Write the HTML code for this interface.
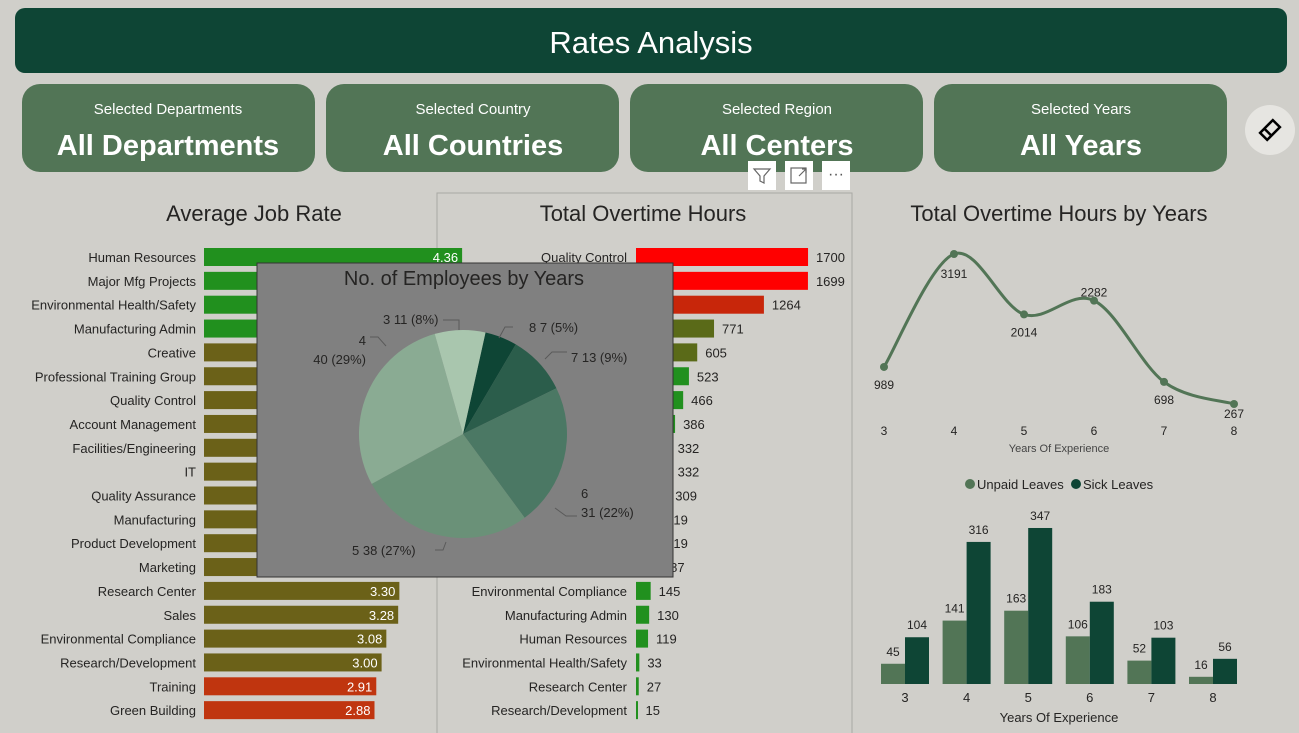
<!DOCTYPE html>
<html><head><meta charset="utf-8">
<style>
html,body{margin:0;padding:0;background:#d0cfca;width:1299px;height:733px;overflow:hidden;font-family:"Liberation Sans",sans-serif}
svg{display:block}
text{font-family:"Liberation Sans",sans-serif}
</style></head>
<body>
<svg id="dash" width="1299" height="733" xmlns="http://www.w3.org/2000/svg">
<rect x="0" y="0" width="1299" height="733" fill="#d0cfca"/>
<rect x="15" y="8" width="1272" height="65" rx="10" fill="#0e4535"/>
<text x="651" y="53" text-anchor="middle" font-size="31" fill="#fff">Rates Analysis</text>

<g><rect x="22" y="84" width="293" height="88" rx="18" fill="#527556"/>
<text x="168" y="114" text-anchor="middle" font-size="15" fill="#fff">Selected Departments</text>
<text x="168" y="155" text-anchor="middle" font-size="29" font-weight="bold" fill="#fff">All Departments</text></g>
<g><rect x="326" y="84" width="293" height="88" rx="18" fill="#527556"/>
<text x="473" y="114" text-anchor="middle" font-size="15" fill="#fff">Selected Country</text>
<text x="473" y="155" text-anchor="middle" font-size="29" font-weight="bold" fill="#fff">All Countries</text></g>
<g><rect x="630" y="84" width="293" height="88" rx="18" fill="#527556"/>
<text x="777" y="114" text-anchor="middle" font-size="15" fill="#fff">Selected Region</text>
<text x="777" y="155" text-anchor="middle" font-size="29" font-weight="bold" fill="#fff">All Centers</text></g>
<g><rect x="934" y="84" width="293" height="88" rx="18" fill="#527556"/>
<text x="1081" y="114" text-anchor="middle" font-size="15" fill="#fff">Selected Years</text>
<text x="1081" y="155" text-anchor="middle" font-size="29" font-weight="bold" fill="#fff">All Years</text></g>
<g><circle cx="1270" cy="130" r="25" fill="#e6e5e1"/>
<g transform="rotate(-45 1270 130)"><rect x="1261" y="125" width="18" height="10" fill="none" stroke="#000" stroke-width="2.5"/><line x1="1267" y1="125" x2="1267" y2="135" stroke="#000" stroke-width="2.5"/></g></g>

<rect x="437" y="193" width="415" height="545" fill="none" stroke="#a9a8a4" stroke-width="1"/>
<g><rect x="748" y="161" width="28" height="29" fill="#fff"/><path d="M754 169 h16 l-6 7 v7 l-4 -2 v-5 z" fill="none" stroke="#666" stroke-width="1.2"/></g>
<g><rect x="785" y="161" width="28" height="29" fill="#fff"/><rect x="791" y="168" width="15" height="15" fill="none" stroke="#666" stroke-width="1.2"/><path d="M799 176 l7 -7 M802 169 h4 v4" stroke="#666" fill="none" stroke-width="1.2"/></g>
<g><rect x="822" y="161" width="28" height="29" fill="#fff"/><text x="836" y="179" text-anchor="middle" font-size="16" fill="#555">···</text></g>

<text x="254" y="221" text-anchor="middle" font-size="22" fill="#252423">Average Job Rate</text>
<text x="643" y="221" text-anchor="middle" font-size="22" fill="#252423">Total Overtime Hours</text>
<text x="1059" y="221" text-anchor="middle" font-size="22" fill="#252423">Total Overtime Hours by Years</text>

<g id="jobrate"></g>
<g id="overtime"></g>
<g id="linechart"></g>
<g id="leaves"></g>
<g id="pie"></g>
</svg>
<script>
const NS="http://www.w3.org/2000/svg";
// ---- data ----
const jobDepts=["Human Resources","Major Mfg Projects","Environmental Health/Safety","Manufacturing Admin","Creative","Professional Training Group","Quality Control","Account Management","Facilities/Engineering","IT","Quality Assurance","Manufacturing","Product Development","Marketing","Research Center","Sales","Environmental Compliance","Research/Development","Training","Green Building"];
const jobRates=[4.36,4.30,4.25,4.20,3.95,3.90,3.85,3.80,3.75,3.70,3.65,3.60,3.55,3.45,3.30,3.28,3.08,3.00,2.91,2.88];
const otDepts=["Quality Control","Major Mfg Projects","Account Management","Creative","Professional Training Group","Sales","Product Development","Quality Assurance","Green Building","IT","Facilities/Engineering","Manufacturing","Training","Marketing","Environmental Compliance","Manufacturing Admin","Human Resources","Environmental Health/Safety","Research Center","Research/Development"];
const otHours=[1700,1699,1264,771,605,523,466,386,332,332,309,219,219,187,145,130,119,33,27,15];
const lineYears=["3","4","5","6","7","8"];
const lineHours=[989,3191,2014,2282,698,267];
const leaveYears=["3","4","5","6","7","8"];
const unpaid=[45,141,163,106,52,16];
const sick=[104,316,347,183,103,56];
const pieYears=["8","7","6","5","4","3"];
const pieCounts=[7,13,31,38,40,11];

function mk(tag,attrs,parent,txt){const e=document.createElementNS(NS,tag);for(const k in attrs)e.setAttribute(k,attrs[k]);if(txt!==undefined)e.textContent=txt;parent.appendChild(e);return e;}
const rowY=i=>257+i*23.85;

// job rate
const jr=document.getElementById('jobrate');
const jx=v=>204+v*59.2;
jobDepts.forEach((d,i)=>{
  const y=rowY(i);
  const c=i<4?"#21901e":(i<18?"#6b6118":"#c0350f");
  const b=mk('rect',{x:204,y:y-9,width:jx(jobRates[i])-204,height:18,fill:c},jr);
  
  
  const l=mk('text',{x:196,y:y+5,'text-anchor':'end','font-size':13,fill:'#252423'},jr,d);
  
  
  const v=mk('text',{x:jx(jobRates[i])-4,y:y+5,'text-anchor':'end','font-size':13,fill:'#fff'},jr,jobRates[i].toFixed(2));
  
  
});
// overtime
const ot=document.getElementById('overtime');
const ox=v=>636+v*0.1012;
otDepts.forEach((d,i)=>{
  const y=rowY(i);const h=otHours[i];
  const c=h>=1500?"#ff0000":h>=1000?"#c8260a":h>=600?"#5a6a18":"#21901e";
  const b=mk('rect',{x:636,y:y-9,width:Math.max(ox(h)-636,2),height:18,fill:c},ot);
  
  
  const l=mk('text',{x:627,y:y+5,'text-anchor':'end','font-size':13,fill:'#252423'},ot,d);
  
  
  const v=mk('text',{x:ox(h)+8,y:y+5,'font-size':13,fill:'#252423'},ot,String(h));
  
  
});
// line chart
const lc=document.getElementById('linechart');
const lx=i=>884+i*70, ly=v=>404-(v-267)*0.0513;
let pts=lineHours.map((v,i)=>[lx(i),ly(v)]);
let dstr="M"+pts[0];
for(let i=0;i<pts.length-1;i++){const p0=pts[Math.max(i-1,0)],p1=pts[i],p2=pts[i+1],p3=pts[Math.min(i+2,pts.length-1)];
 const c1=[p1[0]+(p2[0]-p0[0])/6,p1[1]+(p2[1]-p0[1])/6],c2=[p2[0]-(p3[0]-p1[0])/6,p2[1]-(p3[1]-p1[1])/6];
 dstr+=" C"+c1+" "+c2+" "+p2;}
const ln=mk('path',{d:dstr,fill:'none',stroke:'#527556','stroke-width':3},lc);


lineHours.forEach((v,i)=>{
  const p=mk('circle',{cx:lx(i),cy:ly(v),r:4,fill:'#527556'},lc);
  
  
  const t=mk('text',{x:lx(i),y:ly(v)+22,'text-anchor':'middle','font-size':12,fill:'#252423'},lc,String(v));
  if(i==1) t.setAttribute('y',ly(v)+24);
  if(i==3) t.setAttribute('y',ly(v)-4);
  if(i==5) t.setAttribute('y',ly(v)+14);
  
  
  const k=mk('text',{x:lx(i),y:435,'text-anchor':'middle','font-size':12,fill:'#252423'},lc,lineYears[i]);
  
  
});
const lt=mk('text',{x:1059,y:452,'text-anchor':'middle','font-size':11,fill:'#444'},lc,'Years Of Experience');


// leaves
const lv=document.getElementById('leaves');
const gx=i=>905+i*61.6, by=684, bh=v=>v*0.4496;
const lg1=mk('circle',{cx:970,cy:484,r:5,fill:'#527556'},lv);


const lg1t=mk('text',{x:977,y:489,'font-size':13,fill:'#252423'},lv,'Unpaid Leaves');


const lg2=mk('circle',{cx:1076,cy:484,r:5,fill:'#0e4535'},lv);


const lg2t=mk('text',{x:1083,y:489,'font-size':13,fill:'#252423'},lv,'Sick Leaves');


leaveYears.forEach((yr,i)=>{
  const u=mk('rect',{x:gx(i)-24,y:by-bh(unpaid[i]),width:24,height:bh(unpaid[i]),fill:'#527556'},lv);
  
  
  const s=mk('rect',{x:gx(i),y:by-bh(sick[i]),width:24,height:bh(sick[i]),fill:'#0e4535'},lv);
  
  
  const ut=mk('text',{x:gx(i)-12,y:by-bh(unpaid[i])-8,'text-anchor':'middle','font-size':12,fill:'#252423'},lv,String(unpaid[i]));
  
  
  const st=mk('text',{x:gx(i)+12,y:by-bh(sick[i])-8,'text-anchor':'middle','font-size':12,fill:'#252423'},lv,String(sick[i]));
  
  
  const k=mk('text',{x:gx(i),y:702,'text-anchor':'middle','font-size':13,fill:'#252423'},lv,yr);
  
  
});
const at=mk('text',{x:1059,y:722,'text-anchor':'middle','font-size':13,fill:'#252423'},lv,'Years Of Experience');


// pie
const pg=document.getElementById('pie');
const box=mk('rect',{x:257,y:263,width:416,height:314,fill:'#808080',stroke:'#333','stroke-width':1},pg);


const pt=mk('text',{x:464,y:285,'text-anchor':'middle','font-size':20,fill:'#252423'},pg,'No. of Employees by Years');


const cx=463,cy=434,R=104;
const cols=["#0e4535","#2b5d4b","#4b7864","#6a9178","#8aab93","#a9c6ae"];
const tot=pieCounts.reduce((a,b)=>a+b,0);
let a0=12.5;
const lblPos=[[529,332,'s'],[571,362,'s'],[581,498,'s',2],[352,555,'s'],[366,345,'e',2],[383,324,'s']];
const leaders=["M513,327 L505,327 L499,338","M567,352 L552,352 L545,359","M577,516 L566,516 L555,508","M435,550 L443,550 L446,542","M370,337 L378,337 L386,346","M443,320 L459,320 L459,330"];
pieCounts.forEach((c,i)=>{
  const a1=a0+c/tot*360;
  const r=d=>(d-90)*Math.PI/180;
  const x0=cx+R*Math.cos(r(a0)),y0=cy+R*Math.sin(r(a0)),x1=cx+R*Math.cos(r(a1)),y1=cy+R*Math.sin(r(a1));
  const s=mk('path',{d:`M${cx},${cy} L${x0},${y0} A${R},${R} 0 ${a1-a0>180?1:0} 1 ${x1},${y1} Z`,fill:cols[i]},pg);
  
  
  const ld=mk('path',{d:leaders[i],fill:'none',stroke:'#5a5a5a','stroke-width':1},pg);
  
  
  const p=lblPos[i];
  const pct=Math.round(c/tot*100);
  const two=p.length==4;
  let txt=two?pieYears[i]:`${pieYears[i]} ${c} (${pct}%)`;
  const t=mk('text',{x:p[0],y:p[1],'font-size':13,fill:'#252423','text-anchor':p[2]=='e'?'end':'start'},pg,txt);
  
  
  if(two){
    const t2=mk('text',{x:p[0],y:p[1]+19,'font-size':13,fill:'#252423','text-anchor':p[2]=='e'?'end':'start'},pg,`${c} (${pct}%)`);
    
    
  }
  a0=a1;
});
</script>
</body></html>
